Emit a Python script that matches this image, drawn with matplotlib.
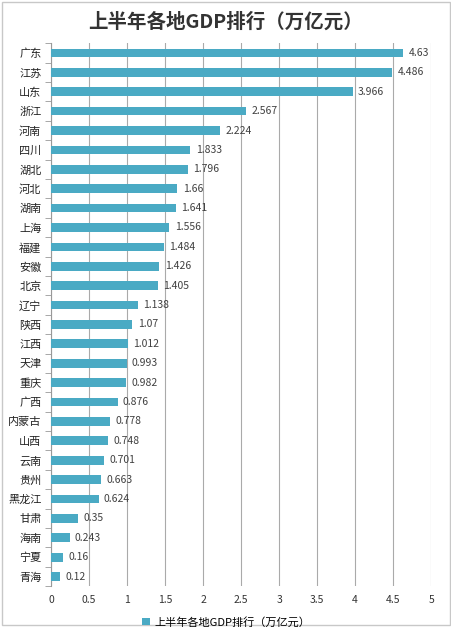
import matplotlib
matplotlib.use("Agg")
import matplotlib.pyplot as plt
import numpy as np
from matplotlib.patches import Rectangle

plt.rcParams['font.family'] = ['Noto Sans CJK SC', 'DejaVu Sans']

provinces = ['广东', '江苏', '山东', '浙江', '河南', '四川', '湖北', '河北', '湖南', '上海',
             '福建', '安徽', '北京', '辽宁', '陕西', '江西', '天津', '重庆', '广西', '内蒙古',
             '山西', '云南', '贵州', '黑龙江', '甘肃', '海南', '宁夏', '青海']
gdp = [4.63, 4.486, 3.966, 2.567, 2.224, 1.833, 1.796, 1.66, 1.641, 1.556,
       1.484, 1.426, 1.405, 1.138, 1.07, 1.012, 0.993, 0.982, 0.876, 0.778,
       0.748, 0.701, 0.663, 0.624, 0.35, 0.243, 0.16, 0.12]
value_labels = ['4.63', '4.486', '3.966', '2.567', '2.224', '1.833', '1.796', '1.66', '1.641', '1.556',
                '1.484', '1.426', '1.405', '1.138', '1.07', '1.012', '0.993', '0.982', '0.876', '0.778',
                '0.748', '0.701', '0.663', '0.624', '0.35', '0.243', '0.16', '0.12']
x_ticks = [0, 0.5, 1, 1.5, 2, 2.5, 3, 3.5, 4, 4.5, 5]
x_ticklabels = ['0', '0.5', '1', '1.5', '2', '2.5', '3', '3.5', '4', '4.5', '5']
title = '上半年各地GDP排行（万亿元）'

bar_color = '#4aaac4'

fig = plt.figure(figsize=(4.52, 6.27), dpi=100)
ax = fig.add_axes([0.113, 0.065, 0.841, 0.866])

n = len(provinces)
y = np.arange(n)
ax.barh(y, gdp, height=0.45, color=bar_color, label=title, zorder=3)
for yi, v, lab in zip(y, gdp, value_labels):
    ax.text(v + 0.07, yi, lab, va='center', ha='left', fontsize=7.5, color='#404040')

ax.set_ylim(n - 0.5, -0.5)
ax.set_xlim(0, 5)
ax.set_yticks(y)
ax.set_yticklabels(provinces, fontsize=8, color='#222222')
ax.set_yticks(np.arange(n + 1) - 0.5, minor=True)
ax.tick_params(axis='y', which='major', length=0, pad=7)
ax.tick_params(axis='y', which='minor', length=4, color='#999999', direction='out')
ax.set_xticks(x_ticks)
ax.set_xticklabels(x_ticklabels, fontsize=7.5, color='#333333')
ax.tick_params(axis='x', length=0, pad=6)
ax.grid(axis='x', color='#aaaaaa', linewidth=0.8, zorder=0)
for s in ['top', 'right', 'bottom']:
    ax.spines[s].set_visible(False)
ax.spines['left'].set_color('#999999')
ax.spines['left'].set_linewidth(0.8)

fig.text(0.5, 0.965, title, ha='center', va='center', fontsize=14, fontweight='bold', color='#333333')

fig.legend(loc='center', bbox_to_anchor=(0.5, 0.008), frameon=False, fontsize=8,
           handlelength=0.7, handleheight=0.7, handletextpad=0.4)

fig.patches.append(Rectangle((0.005, 0.003), 0.99, 0.994, transform=fig.transFigure,
                             fill=False, edgecolor='#c8c8c8', linewidth=1))

fig.savefig('out.png', dpi=100)
